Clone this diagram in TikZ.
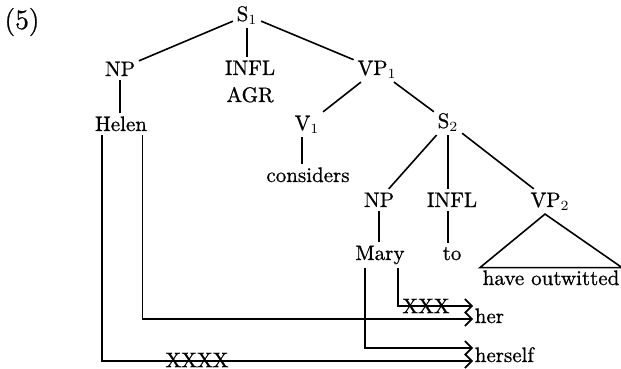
\documentclass[tikz,border=0pt]{standalone}
\usepackage{fontspec}
\setmainfont{Latin Modern Roman}[FakeBold=0.8]
\usetikzlibrary{arrows.meta}

\begin{document}
\begin{tikzpicture}[x=0.5pt, y=-0.5pt, line width=0.8pt,
    font=\fontsize{10.5}{12}\selectfont,
    lbl/.style={anchor=base, inner sep=1.5pt},
    bind/.style={-{Straight Barb[length=3.5pt,width=7pt]}}]
    \useasboundingbox (0,0) rectangle (621,369);

    \node[lbl, font=\fontsize{14}{16}\selectfont] (ex) at (22,29) {(5)};
    \node[lbl] (S1) at (247,21) {S$_1$};
    \node[lbl] (NP1) at (120,76) {NP};
    \node[lbl] (INFL1) at (250,75) {INFL};
    \node[lbl] (AGR) at (250,102) {AGR};
    \node[lbl] (VP1) at (377,75) {VP$_1$};
    \node[lbl] (Helen) at (121,131) {Helen};
    \node[lbl] (V1) at (307,130) {V$_1$};
    \node[lbl] (S2) at (448,128) {S$_2$};
    \node[lbl] (cons) at (308,182) {considers};
    \node[lbl] (NP2) at (379,207) {NP};
    \node[lbl] (INFL2) at (452,207) {INFL};
    \node[lbl] (VP2) at (550,207) {VP$_2$};
    \node[lbl] (Mary) at (380,260) {Mary};
    \node[lbl] (to) at (452,260) {to};
    \node[lbl, inner sep=1pt] (ow) at (551,285) {have outwitted};
    \node[lbl, anchor=base west, inner sep=0pt] (her) at (474,323) {her};
    \node[lbl, anchor=base west, inner sep=0pt] (self) at (474,362) {herself};

    % tree
    \draw (S1) -- (NP1);
    \draw (S1.south) -- (S1.south |- INFL1.north);
    \draw (S1) -- (VP1);
    \draw (NP1.south) -- (NP1.south |- Helen.north);
    \draw (VP1) -- (V1);
    \draw (VP1) -- (S2);
    \draw ([xshift=-2.5pt]V1.south) -- ([xshift=-2.5pt]V1.south |- cons.north);
    \draw (S2) -- (NP2);
    \draw (S2.south) -- (S2.south |- INFL2.north);
    \draw (S2) -- (VP2);
    \draw (NP2.south) -- (NP2.south |- Mary.north);
    \draw ([xshift=-2pt]INFL2.south) -- ([xshift=-2pt]INFL2.south |- to.north);
    \draw ([xshift=-2.5pt]VP2.south) -- (ow.north west) -- (ow.north east) -- cycle;

    % binding arrows
    \coordinate (herA) at (473,306);
    \coordinate (herB) at (473,319);
    \coordinate (selfA) at (473,348);
    \coordinate (selfB) at (473,361);
    \draw[bind] ([xshift=-9.5pt]Helen.south) |- (selfB);
    \draw[bind] ([xshift=10.75pt]Helen.south) |- (herB);
    \draw[bind] ([xshift=-7.5pt]Mary.south) |- (selfA);
    \draw[bind] ([xshift=9pt]Mary.south) |- (herA);
    \node[inner sep=0pt] (xMary) at (426,306) {XXX};
    \node[inner sep=0pt] (xHelen) at (197,360) {XXXX};

\end{tikzpicture}
\end{document}
